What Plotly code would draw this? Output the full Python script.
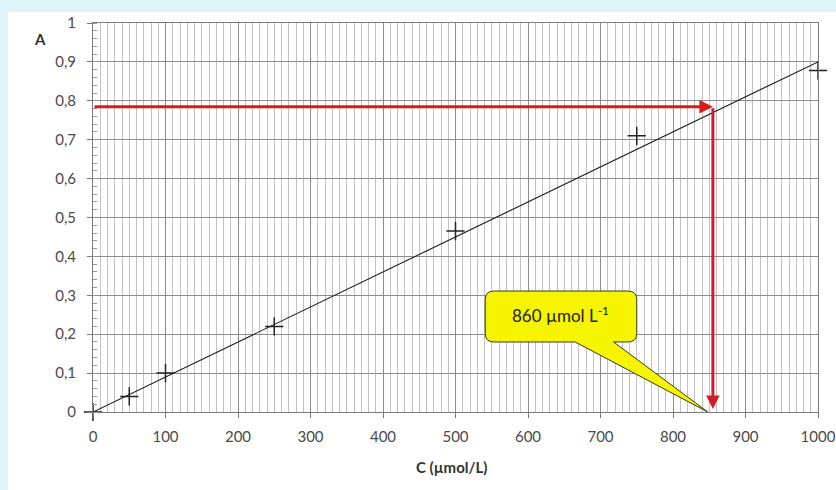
import plotly.graph_objects as go

# ---- data ----
conc = [0, 50, 100, 250, 500, 750, 1000]
absorb = [0.0, 0.04, 0.10, 0.22, 0.465, 0.71, 0.878]
fit_x = [0, 1000]
fit_y = [0.0, 0.9]
x_ticks = [0, 100, 200, 300, 400, 500, 600, 700, 800, 900, 1000]
y_ticks = [0, 0.1, 0.2, 0.3, 0.4, 0.5, 0.6, 0.7, 0.8, 0.9, 1.0]
y_ticktext = ["0", "0,1", "0,2", "0,3", "0,4", "0,5", "0,6", "0,7", "0,8", "0,9", "1"]
sample_A = 0.785
sample_C = 855
callout_text = "860 µmol L<sup>-1</sup>"

W, H = 836, 490
# plot area in page pixels: x 93..818, y 23..412
ML, MT = 93, 23
MR = W - 818
MB = H - 412
PW, PH = W - ML - MR, H - MT - MB

def px2paper_x(px):
    return (px - ML) / PW

def px2paper_y(py):
    return (H - MB - py) / PH

FONT = "Lato, 'Open Sans', sans-serif"
CYAN = "#dff4f8"

fig = go.Figure()

fig.add_trace(go.Scatter(x=fit_x, y=fit_y, mode="lines",
                         line=dict(color="#1a1a1a", width=1.1),
                         hoverinfo="skip", showlegend=False))
fig.add_trace(go.Scatter(x=conc, y=absorb, mode="markers", cliponaxis=False,
                         marker=dict(symbol="cross-thin", size=13,
                                     line=dict(color="#222222", width=1.5)),
                         showlegend=False))

# callout bubble (data coordinates)
x0, x1 = 541, 750
y0, y1 = 0.180, 0.311
rx, ry = 12, 0.022
tl, tr = 665, 718
tipx, tipy = 848, 0.0
path = (f"M {x0+rx},{y1} L {x1-rx},{y1} Q {x1},{y1} {x1},{y1-ry} "
        f"L {x1},{y0+ry} Q {x1},{y0} {x1-rx},{y0} "
        f"L {tr},{y0} L {tipx},{tipy} L {tl},{y0} "
        f"L {x0+rx},{y0} Q {x0},{y0} {x0},{y0+ry} "
        f"L {x0},{y1-ry} Q {x0},{y1} {x0+rx},{y1} Z")

shapes = [
    # white panel over cyan page background
    dict(type="rect", xref="paper", yref="paper", layer="below",
         x0=px2paper_x(8), x1=px2paper_x(840), y0=px2paper_y(12), y1=px2paper_y(495),
         fillcolor="white", line=dict(width=0)),
    dict(type="path", path=path, xref="x", yref="y", layer="above",
         fillcolor="#f7f400", line=dict(color="#3a3a1a", width=1)),
]

annotations = [
    # red reading arrows
    dict(x=sample_C, y=sample_A, ax=0, ay=sample_A, xref="x", yref="y",
         axref="x", ayref="y", showarrow=True, arrowhead=2, arrowsize=0.9,
         arrowwidth=3, arrowcolor="#dd1a1a", text=""),
    dict(x=sample_C, y=0.008, ax=sample_C, ay=sample_A, xref="x", yref="y",
         axref="x", ayref="y", showarrow=True, arrowhead=2, arrowsize=0.9,
         arrowwidth=3, arrowcolor="#cc1f2a", text=""),
    dict(x=(x0 + x1) / 2, y=(y0 + y1) / 2 + 0.005, xref="x", yref="y",
         text=callout_text, showarrow=False,
         font=dict(family=FONT, size=17, color="#222222")),
    dict(x=px2paper_x(32), y=px2paper_y(28), xref="paper", yref="paper",
         text="<b>A</b>", showarrow=False,
         font=dict(family=FONT, size=15, color="#333333")),
    dict(x=px2paper_x(414), y=px2paper_y(467), xref="paper", yref="paper",
         xanchor="left", yanchor="middle", text="<b>C (µmol/L)</b>",
         showarrow=False, font=dict(family=FONT, size=15, color="#333333")),
]

fig.update_layout(
    width=W, height=H,
    margin=dict(l=ML, r=MR, t=MT, b=MB, autoexpand=False),
    paper_bgcolor=CYAN,
    plot_bgcolor="white",
    shapes=shapes,
    annotations=annotations,
    showlegend=False,
    font=dict(family=FONT, size=15, color="#444444"),
)

fig.update_xaxes(
    range=[0, 1000], tickvals=x_ticks, ticks="outside", ticklen=5,
    tickcolor="#777777", showgrid=True, gridcolor="#8c8c8c", gridwidth=1,
    showline=True, linecolor="#7a7a7a", linewidth=1, mirror=True,
    zeroline=False, ticklabelstandoff=6, automargin=False,
    minor=dict(dtick=10, showgrid=True, gridcolor="#c2c2c2", gridwidth=1, ticks=""),
    tickfont=dict(family=FONT, size=15, color="#4a4a4a"),
)
fig.update_yaxes(
    range=[0, 1], tickvals=y_ticks, ticktext=y_ticktext, ticks="outside", ticklen=5,
    tickcolor="#777777", showgrid=True, gridcolor="#8c8c8c", gridwidth=1,
    showline=True, linecolor="#7a7a7a", linewidth=1, mirror=True,
    zeroline=False, ticklabelstandoff=8, automargin=False,
    minor=dict(dtick=0.02, showgrid=False, ticks="inside", ticklen=4, tickcolor="#999999"),
    tickfont=dict(family=FONT, size=15, color="#4a4a4a"),
)

fig.write_html(
    "out.html",
    config={"displayModeBar": False},
    post_script="document.body.style.margin='0';document.body.style.background='" + CYAN + "';",
)
